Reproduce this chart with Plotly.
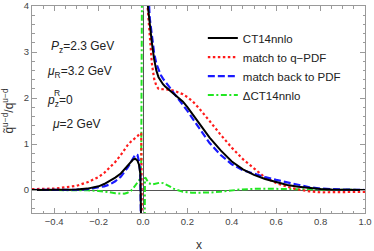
import plotly.graph_objects as go

# ---------------- data ----------------
x_neg = [-0.5, -0.4, -0.35, -0.3, -0.25, -0.2, -0.175, -0.15, -0.125, -0.1,
         -0.085, -0.07, -0.055, -0.045, -0.035, -0.025, -0.018, -0.012, -0.008, -0.004]
ct14_neg = [0.0, 0.0, 0.005, 0.01, 0.03, 0.08, 0.13, 0.2, 0.27, 0.36,
            0.44, 0.53, 0.61, 0.66, 0.68, 0.64, 0.55, 0.35, -0.8, -3.0]
qpdf_neg = [0.02, 0.03, 0.06, 0.09, 0.17, 0.28, 0.37, 0.49, 0.61, 0.76,
            0.87, 0.97, 1.05, 1.1, 1.13, 1.17, 1.2, 1.24, 1.22, -1.5]
back_neg = [0.0, 0.0, 0.0, 0.005, 0.02, 0.05, 0.08, 0.12, 0.19, 0.29,
            0.38, 0.48, 0.6, 0.69, 0.77, 0.76, 0.62, 0.35, -0.8, -3.0]

x_pos = [0.005, 0.012, 0.018, 0.022, 0.03, 0.04, 0.05, 0.06, 0.07, 0.08, 0.09, 0.1,
         0.12, 0.14, 0.16, 0.18, 0.2, 0.225, 0.25, 0.275, 0.3, 0.35, 0.4, 0.45,
         0.5, 0.55, 0.6, 0.65, 0.7, 0.75, 0.8, 0.85, 0.9, 0.95, 1.0]
ct14_pos = [12, 6.5, 4.6, 4.0, 3.6, 3.2, 2.85, 2.6, 2.45, 2.36, 2.3, 2.25,
            2.17, 2.1, 2.02, 1.92, 1.8, 1.63, 1.46, 1.3, 1.14, 0.86, 0.62, 0.45,
            0.33, 0.24, 0.17, 0.11, 0.07, 0.04, 0.02, 0.01, 0.005, 0.0, 0.0]
qpdf_pos = [12, 6.2, 4.4, 3.9, 3.3, 2.75, 2.42, 2.27, 2.2, 2.19, 2.19, 2.19,
            2.18, 2.16, 2.12, 2.08, 2.02, 1.92, 1.79, 1.65, 1.5, 1.2, 0.92, 0.67,
            0.47, 0.27, 0.15, 0.07, 0.01, -0.03, -0.05, -0.05, -0.05, -0.045, -0.04]
back_pos = [14, 7.5, 5.3, 4.6, 3.75, 3.3, 2.98, 2.75, 2.6, 2.5, 2.42, 2.35,
            2.23, 2.1, 1.98, 1.85, 1.72, 1.54, 1.36, 1.18, 1.02, 0.76, 0.56, 0.43,
            0.35, 0.28, 0.22, 0.17, 0.11, 0.06, 0.03, 0.015, 0.01, 0.005, 0.0]

xd_neg = [-0.5, -0.4, -0.3, -0.25, -0.2, -0.175, -0.15, -0.125, -0.1, -0.085,
          -0.07, -0.055, -0.045, -0.035, -0.025, -0.018, -0.012, -0.008, -0.004]
delta_neg = [0.0, 0.0, 0.0, -0.005, -0.02, -0.03, -0.05, -0.07, -0.08, -0.08,
             -0.06, -0.02, 0.03, 0.09, 0.15, 0.2, 0.25, 0.6, 5.0]
xd_pos = [0.003, 0.006, 0.009, 0.012, 0.017, 0.025, 0.04, 0.06, 0.077, 0.09, 0.107,
          0.12, 0.137, 0.16, 0.18, 0.22, 0.257, 0.3, 0.347, 0.4, 0.437, 0.5, 0.557,
          0.65, 0.75, 0.85, 1.0]
delta_pos = [-4.0, -0.3, 0.27, 0.26, 0.22, 0.15, 0.12, 0.15, 0.16, 0.15, 0.12,
             0.08, 0.03, -0.01, -0.04, -0.06, -0.065, -0.055, -0.04, -0.01, 0.01, 0.025, 0.03,
             0.02, 0.01, 0.005, 0.0]

series_names = ["CT14nnlo", "match to q\u2212PDF", "match back to PDF", "\u0394CT14nnlo"]
x_ticks = [-0.4, -0.2, 0.0, 0.2, 0.4, 0.6, 0.8, 1.0]
x_tick_text = ["\u22120.4", "\u22120.2", "0.0", "0.2", "0.4", "0.6", "0.8", "1.0"]
y_ticks = [0, 1, 2, 3, 4]

# ---------------- figure ----------------
def join(xa, ya, xb, yb):
    return list(xa) + [None] + list(xb), list(ya) + [None] + list(yb)

FONT = "Liberation Sans, Arial, sans-serif"
fig = go.Figure()

styles = [
    dict(color="#000000", width=2, dash="solid"),
    dict(color="#ff1a1a", width=2.2, dash="2.5px,2.5px"),
    dict(color="#1a1aff", width=2.2, dash="7px,3px"),
    dict(color="#22e622", width=2, dash="6px,2.5px,2px,2.5px"),
]
data = [
    join(x_neg, ct14_neg, x_pos, ct14_pos),
    join(x_neg, qpdf_neg, x_pos, qpdf_pos),
    join(x_neg, back_neg, x_pos, back_pos),
    join(xd_neg, delta_neg, xd_pos, delta_pos),
]
order = [3, 1, 2, 0]  # draw order (black on top)
for i in order:
    xs, ys = data[i]
    fig.add_trace(go.Scatter(x=xs, y=ys, mode="lines", name=series_names[i],
                             line=styles[i], connectgaps=False,
                             legendrank=i + 1, hoverinfo="skip"))

axis_common = dict(
    showline=True, mirror="allticks", linecolor="#9a9a9a", linewidth=1,
    ticks="inside", ticklen=5, tickcolor="#9a9a9a", tickwidth=1,
    showgrid=False, zeroline=True, zerolinecolor="#555555", zerolinewidth=1,
    tickfont=dict(family=FONT, size=9.5, color="#444444"),
    automargin=False,
)
fig.update_xaxes(range=[-0.5, 1.0], tickvals=x_ticks, ticktext=x_tick_text,
                 minor=dict(dtick=0.05, ticks="inside", ticklen=2.5, tickcolor="#9a9a9a"),
                 **axis_common)
fig.update_yaxes(range=[-0.5, 4.0], tickvals=y_ticks,
                 minor=dict(dtick=0.2, ticks="inside", ticklen=2.5, tickcolor="#9a9a9a"),
                 **axis_common)

title_font = dict(family=FONT, size=12, color="#333333")
fig.add_annotation(x=0.5, y=-0.155, xref="paper", yref="paper", text="x",
                   showarrow=False, xanchor="center", yanchor="middle", font=title_font)
fig.add_annotation(x=-0.072, y=0.49, xref="paper", yref="paper",
                   text="q\u0303<sup>u\u2212d</sup>/q<sup>u\u2212d</sup>",
                   textangle=-90, showarrow=False, xanchor="center", yanchor="middle",
                   font=title_font)

ann_font = dict(family=FONT, size=12, color="#222222")
annots = [
    (0.050, 0.800, "<i>P</i><sub>z</sub>=2.3 GeV"),
    (0.040, 0.682, "<i>\u03bc</i><sub>R</sub>=3.2 GeV"),
    (0.040, 0.540, "<i>p</i><sub>z</sub>=0"),
    (0.054, 0.430, "<i>\u03bc</i>=2 GeV"),
]
for ax_, ay_, t in annots:
    fig.add_annotation(x=ax_, y=ay_, xref="paper", yref="paper", text=t,
                       showarrow=False, xanchor="left", yanchor="middle", font=ann_font)
fig.add_annotation(x=0.061, y=0.580, xref="paper", yref="paper", text="R",
                   showarrow=False, xanchor="left", yanchor="middle",
                   font=dict(family=FONT, size=8.5, color="#222222"))

fig.update_layout(
    width=374, height=251,
    margin=dict(l=32, r=9, t=6, b=38),
    plot_bgcolor="white", paper_bgcolor="white",
    legend=dict(x=0.513, y=0.915, xanchor="left", yanchor="top",
                font=dict(family=FONT, size=11.5, color="#222222"),
                bgcolor="rgba(0,0,0,0)", tracegroupgap=0, itemwidth=30,
                traceorder="normal"),
    showlegend=True,
    hovermode=False,
)
fig.write_html("out.html", config={"displayModeBar": False, "staticPlot": False},
               post_script="document.body.style.margin='0';document.body.style.padding='0';")
